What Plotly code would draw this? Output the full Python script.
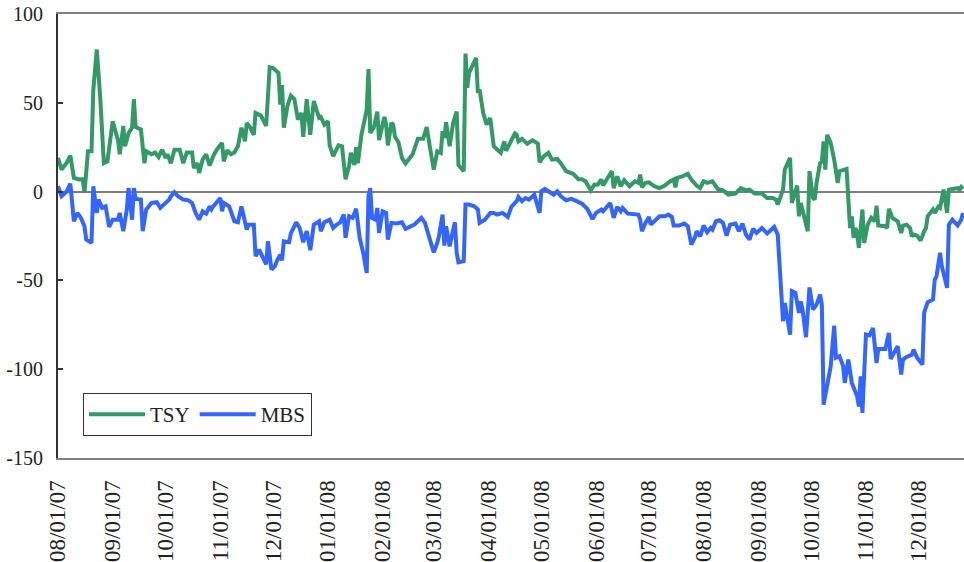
import plotly.graph_objects as go

tsy_dates = [
"2007-08-01","2007-08-03","2007-08-06","2007-08-08","2007-08-10","2007-08-13","2007-08-15","2007-08-16","2007-08-18","2007-08-20",
"2007-08-21","2007-08-23","2007-08-25","2007-08-27","2007-08-29","2007-09-01","2007-09-04","2007-09-05","2007-09-07","2007-09-08",
"2007-09-10","2007-09-12","2007-09-13","2007-09-14","2007-09-17","2007-09-19","2007-09-20","2007-09-23","2007-09-25","2007-09-27",
"2007-09-29","2007-10-01","2007-10-02","2007-10-04","2007-10-06","2007-10-09","2007-10-11","2007-10-13","2007-10-16","2007-10-17",
"2007-10-19","2007-10-20","2007-10-22","2007-10-24","2007-10-26","2007-10-28","2007-10-30","2007-11-02","2007-11-03","2007-11-05",
"2007-11-07","2007-11-09","2007-11-11","2007-11-13","2007-11-15","2007-11-16","2007-11-18","2007-11-20","2007-11-21","2007-11-24",
"2007-11-27","2007-11-29","2007-12-01","2007-12-04","2007-12-05","2007-12-06","2007-12-07","2007-12-09","2007-12-11","2007-12-13",
"2007-12-15","2007-12-17","2007-12-18","2007-12-20","2007-12-22","2007-12-24","2007-12-27","2007-12-28","2007-12-30","2008-01-01",
"2008-01-02","2008-01-04","2008-01-07","2008-01-09","2008-01-11","2008-01-13","2008-01-14","2008-01-16","2008-01-17","2008-01-18",
"2008-01-20","2008-01-23","2008-01-24","2008-01-25","2008-01-27","2008-01-29","2008-01-30","2008-02-02","2008-02-03","2008-02-04",
"2008-02-06","2008-02-07","2008-02-08","2008-02-10","2008-02-12","2008-02-14","2008-02-18","2008-02-21","2008-02-24","2008-02-26",
"2008-02-28","2008-03-01","2008-03-03","2008-03-05","2008-03-06","2008-03-07","2008-03-08","2008-03-10","2008-03-12","2008-03-14",
"2008-03-15","2008-03-18","2008-03-19","2008-03-20","2008-03-21","2008-03-25","2008-03-26","2008-03-27","2008-03-29","2008-03-31",
"2008-04-02","2008-04-04","2008-04-08","2008-04-10","2008-04-11","2008-04-13","2008-04-16","2008-04-17","2008-04-18","2008-04-20",
"2008-04-23","2008-04-26","2008-04-29","2008-04-30","2008-05-02","2008-05-05","2008-05-07","2008-05-10","2008-05-12","2008-05-15",
"2008-05-19","2008-05-22","2008-05-24","2008-05-26","2008-05-28","2008-05-29","2008-05-31","2008-06-02","2008-06-04","2008-06-05",
"2008-06-07","2008-06-10","2008-06-11","2008-06-13","2008-06-15","2008-06-17","2008-06-20","2008-06-23","2008-06-25","2008-06-26",
"2008-06-27","2008-06-29","2008-07-01","2008-07-04","2008-07-07","2008-07-10","2008-07-13","2008-07-15","2008-07-16","2008-07-17",
"2008-07-20","2008-07-23","2008-07-25","2008-07-28","2008-07-30","2008-08-01","2008-08-03","2008-08-06","2008-08-09","2008-08-12",
"2008-08-15","2008-08-19","2008-08-22","2008-08-25","2008-08-27","2008-08-30","2008-09-03","2008-09-06","2008-09-09","2008-09-11",
"2008-09-12","2008-09-15","2008-09-16","2008-09-19","2008-09-20","2008-09-22","2008-09-23","2008-09-24","2008-09-25","2008-09-26",
"2008-09-28","2008-09-29","2008-09-30","2008-10-02","2008-10-03","2008-10-04","2008-10-06","2008-10-07","2008-10-08","2008-10-09",
"2008-10-10","2008-10-12","2008-10-14","2008-10-16","2008-10-17","2008-10-21","2008-10-23","2008-10-24","2008-10-25","2008-10-26",
"2008-10-27","2008-10-28","2008-10-30","2008-10-31","2008-11-02","2008-11-04","2008-11-06","2008-11-07","2008-11-08","2008-11-12",
"2008-11-13","2008-11-14","2008-11-16","2008-11-19","2008-11-21","2008-11-22","2008-11-24","2008-11-26","2008-11-27","2008-11-28",
"2008-11-30","2008-12-02","2008-12-04","2008-12-05","2008-12-06","2008-12-09","2008-12-10","2008-12-12","2008-12-13","2008-12-14",
"2008-12-15","2008-12-17","2008-12-18","2008-12-20","2008-12-23","2008-12-24","2008-12-25","2008-12-26"]
tsy_values = [
19,12.4,16.3,20.3,7.7,6.8,7,-0.7,22.7,22.7,
57,80,52,16,17,39.6,29,21,37,25.5,
33,36,52,36.4,35,16,22.7,21,22,19.5,
23.6,19,21,16,23.6,23.6,16,22,22,13.3,
16,10.5,18,21,14.6,20,23.6,27.4,17,23.3,
21,22,25.5,36,28.3,38.7,36,32,44.3,42.8,
37,70,69.6,66.8,49,60,36,48,54,52,
40.5,44.3,30.8,52,32,51,41.5,42,37.7,39.6,
26,20,26,25.5,7,14.3,21.8,15,25,16,
32,46,69,33,36,45,29,42,37.7,26,
38.7,37.7,31,27.8,19,15.8,21,29.7,29.7,36.4,
24,12.4,22.7,21.8,34,30.2,39,25.5,38.7,45,
15,11.5,77.7,58.4,66.8,75.3,55.6,57.4,44.3,37.7,
41.5,25.5,21.8,28.3,23,27.4,32.7,32,28.3,29.7,
27,28.9,27,16.5,19.5,21.8,18,18.4,16,11.5,
10,7,7,5.8,3,0.7,3.9,4,6.8,3.4,
6.8,11.5,2,8.6,3,6.4,3,5.8,4.9,9.6,
2.4,4.9,5.2,3,2,3.4,5.8,6.8,2.4,7.7,
8.6,10,6.8,3.4,2,5.8,4.9,5.8,1.5,0.7,
-1.7,-1.1,2,0.7,1.1,-1.1,-1.1,-3.6,-3.6,-4.5,
-7.3,1.1,12.4,19,-6.4,-0.7,3.4,-13.9,-6.4,-10.1,
-19.5,-22.3,11.5,-3.6,-4.5,4.9,16,17,28.3,12.4,
32,27.4,18,4.9,11.5,12.8,-20.5,-13.9,-26,-20.5,
-23.3,-31.7,-10.1,-28.9,-18.6,-14.8,-16.7,-7.9,-19.1,-19.5,
-20.5,-9.7,-14.8,-16.7,-23.3,-19.1,-18.6,-20.5,-25.2,-24.2,
-24.8,-27.6,-22.3,-20.5,-13.9,-10.1,-12,-8.6,-9.2,-3.6,
1.1,-12,1.1,1.5,2,1.1,2.6,1.5]

mbs_dates = [
"2007-08-01","2007-08-03","2007-08-06","2007-08-08","2007-08-10","2007-08-12","2007-08-14","2007-08-16","2007-08-17","2007-08-20",
"2007-08-21","2007-08-23","2007-08-24","2007-08-26","2007-08-28","2007-08-30","2007-09-01","2007-09-04","2007-09-05","2007-09-07",
"2007-09-09","2007-09-10","2007-09-12","2007-09-13","2007-09-14","2007-09-17","2007-09-18","2007-09-20","2007-09-23","2007-09-26",
"2007-09-28","2007-10-01","2007-10-03","2007-10-04","2007-10-06","2007-10-08","2007-10-11","2007-10-14","2007-10-16","2007-10-18",
"2007-10-20","2007-10-22","2007-10-24","2007-10-26","2007-10-27","2007-10-28","2007-10-30","2007-11-01","2007-11-02","2007-11-03",
"2007-11-06","2007-11-09","2007-11-11","2007-11-13","2007-11-16","2007-11-17","2007-11-20","2007-11-21","2007-11-23","2007-11-25",
"2007-11-27","2007-11-28","2007-11-30","2007-12-02","2007-12-03","2007-12-05","2007-12-06","2007-12-07","2007-12-10","2007-12-11",
"2007-12-14","2007-12-16","2007-12-18","2007-12-20","2007-12-22","2007-12-24","2007-12-27","2007-12-28","2007-12-30","2008-01-02",
"2008-01-04","2008-01-06","2008-01-08","2008-01-10","2008-01-11","2008-01-13","2008-01-15","2008-01-17","2008-01-19","2008-01-21",
"2008-01-23","2008-01-24","2008-01-25","2008-01-26","2008-01-28","2008-01-29","2008-01-30","2008-02-01","2008-02-03","2008-02-04",
"2008-02-06","2008-02-09","2008-02-12","2008-02-14","2008-02-17","2008-02-19","2008-02-21","2008-02-23","2008-02-25","2008-02-27",
"2008-03-01","2008-03-03","2008-03-04","2008-03-06","2008-03-07","2008-03-08","2008-03-10","2008-03-11","2008-03-13","2008-03-14",
"2008-03-15","2008-03-18","2008-03-19","2008-03-21","2008-03-24","2008-03-26","2008-03-27","2008-03-30","2008-04-02","2008-04-04",
"2008-04-06","2008-04-09","2008-04-11","2008-04-12","2008-04-14","2008-04-17","2008-04-18","2008-04-20","2008-04-22","2008-04-24",
"2008-04-27","2008-04-30","2008-05-01","2008-05-03","2008-05-05","2008-05-08","2008-05-10","2008-05-12","2008-05-15","2008-05-18",
"2008-05-21","2008-05-24","2008-05-27","2008-05-30","2008-06-01","2008-06-04","2008-06-05","2008-06-07","2008-06-09","2008-06-11",
"2008-06-13","2008-06-15","2008-06-16","2008-06-19","2008-06-22","2008-06-25","2008-06-26","2008-06-27","2008-06-29","2008-07-01",
"2008-07-02","2008-07-05","2008-07-07","2008-07-10","2008-07-12","2008-07-14","2008-07-15","2008-07-18","2008-07-21","2008-07-23",
"2008-07-25","2008-07-27","2008-07-28","2008-07-30","2008-08-01","2008-08-03","2008-08-05","2008-08-06","2008-08-08","2008-08-10",
"2008-08-12","2008-08-14","2008-08-16","2008-08-19","2008-08-21","2008-08-23","2008-08-25","2008-08-27","2008-08-29","2008-08-31",
"2008-09-03","2008-09-06","2008-09-08","2008-09-10","2008-09-12","2008-09-13","2008-09-15","2008-09-16","2008-09-19","2008-09-20",
"2008-09-22","2008-09-24","2008-09-25","2008-09-26","2008-09-28","2008-09-30","2008-10-02","2008-10-04","2008-10-06","2008-10-07",
"2008-10-08","2008-10-12","2008-10-14","2008-10-15","2008-10-17","2008-10-19","2008-10-20","2008-10-22","2008-10-24","2008-10-27",
"2008-10-28","2008-10-29","2008-10-30","2008-11-01","2008-11-03","2008-11-05","2008-11-07","2008-11-08","2008-11-12","2008-11-14",
"2008-11-15","2008-11-19","2008-11-21","2008-11-22","2008-11-24","2008-11-27","2008-11-28","2008-11-30","2008-12-03","2008-12-04",
"2008-12-06","2008-12-09","2008-12-10","2008-12-11","2008-12-13","2008-12-14","2008-12-17","2008-12-18","2008-12-20","2008-12-23",
"2008-12-25","2008-12-26"]
mbs_values = [
3,-2.6,0.2,4.5,-16.7,-12,-14.8,-19.5,-27,-28.9,
3,-12,-4.5,-9.2,-8.3,-19.9,-15.8,-15.8,-12,-22.3,
-10.1,2,-15.8,2,-4.1,-4.5,-22.3,-10.1,-6.4,-6,
-9.2,-6.4,-4.5,-2.6,-0.4,-2.6,-4.5,-4.9,-6.4,-12,
-15.8,-11.1,-12.4,-8.3,-10,-8.3,-6,-3.6,-11.1,-6.4,
-8.3,-16.7,-17.3,-8.3,-21.4,-18.6,-18.6,-36.4,-32.7,-37.3,
-41,-28,-43.9,-42,-39.2,-35.5,-38.7,-28,-28.5,-23.6,
-17.3,-20.5,-28.5,-22.3,-33,-18.6,-16.7,-22.3,-17.3,-15.8,
-20.5,-18.6,-17.3,-12.9,-26,-13.9,-14.8,-9.7,-26,-34.5,
-45.8,-2.6,2,-14.8,-15.8,-9.2,-23.3,-11.1,-12,-27,
-17.6,-18,-17.3,-21,-19.5,-18.6,-16.7,-14.8,-17.6,-24.2,
-34.2,-28.9,-24.8,-12.9,-30.4,-19.5,-30.8,-26,-17.3,-34.5,
-39.8,-39.2,-7.3,-7.3,-8.3,-10.1,-17.6,-15.8,-12,-12,
-12.9,-12,-13.9,-14.3,-8.6,-5.4,-3,-5.4,-3.6,-4.5,
-1.7,-12,0.2,1.5,0.2,-1.7,0.2,-2.6,-4.9,-4.1,
-5.4,-6.8,-9.7,-15.4,-12,-10.1,-11.1,-8.3,-6.4,-14.8,
-8.6,-11.1,-9.2,-12.4,-12.9,-12.9,-15.8,-22.3,-17.6,-14.3,
-18.6,-15.8,-13.9,-13.9,-12.9,-14.3,-19.1,-19.1,-18,-19.5,
-29.8,-26,-22.3,-25.2,-19.1,-22.9,-20.5,-21.4,-16.7,-16.1,
-17.6,-24.8,-18.6,-18,-22.3,-18,-24.2,-27,-21,-23.3,
-20.5,-23.6,-21.8,-19.9,-24.2,-42,-73,-62.7,-80.5,-56,
-57,-68.3,-61.8,-66,-82,-54,-66.4,-63.6,-58,-63.6,
-120,-98.4,-75.5,-93.6,-92.7,-98,-107.7,-94.6,-107.7,-115.2,
-120.9,-104,-124.6,-80.5,-81,-76.8,-96.5,-88.6,-88.6,-79.6,
-94.2,-87.1,-103,-94.6,-93.1,-91.8,-89,-93.6,-97.4,-68,
-62.3,-60.8,-49.5,-47.7,-34.5,-42,-54.2,-18.6,-15.8,-19.1,
-15.8,-12]

tick_dates = ["2007-08-01","2007-09-01","2007-10-01","2007-11-01","2007-12-01","2008-01-01",
              "2008-02-01","2008-03-01","2008-04-01","2008-05-01","2008-06-01","2008-07-01",
              "2008-08-01","2008-09-01","2008-10-01","2008-11-01","2008-12-01"]
tick_labels = ["08/01/07","09/01/07","10/01/07","11/01/07","12/01/07","01/01/08",
               "02/01/08","03/01/08","04/01/08","05/01/08","06/01/08","07/01/08",
               "08/01/08","09/01/08","10/01/08","11/01/08","12/01/08"]
y_ticks = [-150, -100, -50, 0, 50, 100]
y_labels = ["-150", "-100", "-50", "0", "50", "100"]

FONT = "Liberation Serif"

fig = go.Figure()
fig.add_trace(go.Scatter(x=tsy_dates, y=tsy_values, name="TSY", mode="lines",
                         line=dict(color="#339966", width=4)))
fig.add_trace(go.Scatter(x=mbs_dates, y=mbs_values, name="MBS", mode="lines",
                         line=dict(color="#3366FF", width=4)))

fig.update_layout(
    width=964, height=562,
    margin=dict(l=58, r=0, t=14, b=104, autoexpand=False),
    paper_bgcolor="white", plot_bgcolor="white",
    font=dict(family=FONT, size=20, color="#222"),
    showlegend=True,
    legend=dict(orientation="h", x=0.0276, y=0.098, xanchor="left", yanchor="middle",
                bordercolor="#333", borderwidth=1, bgcolor="white",
                font=dict(family=FONT, size=21, color="#222"),
                itemwidth=56, tracegroupgap=0),
    xaxis=dict(type="date", range=["2007-08-01", "2008-12-26 14:00"],
               tickmode="array", tickvals=tick_dates, ticktext=tick_labels,
               tickangle=-90, ticks="", showgrid=False, automargin=False,
               tickfont=dict(family=FONT, size=23, color="#222"),
               showline=True, linecolor="#808080", linewidth=2, mirror=True,
               ticklabelstandoff=11, zeroline=False),
    yaxis=dict(range=[-150, 100], tickmode="array", tickvals=y_ticks, ticktext=y_labels,
               ticks="inside", ticklen=5, tickwidth=1.5, tickcolor="#333",
               showgrid=False, showline=True, linecolor="#333", linewidth=2,
               zeroline=True, zerolinecolor="#808080", zerolinewidth=2,
               automargin=False, ticklabeloverflow="allow",
               ticklabelstandoff=9),
)

# remove the default 8px page margin so the figure fills the window exactly
fig.write_html("out.html", config={"displayModeBar": False},
               post_script="document.body.style.margin='0';")
